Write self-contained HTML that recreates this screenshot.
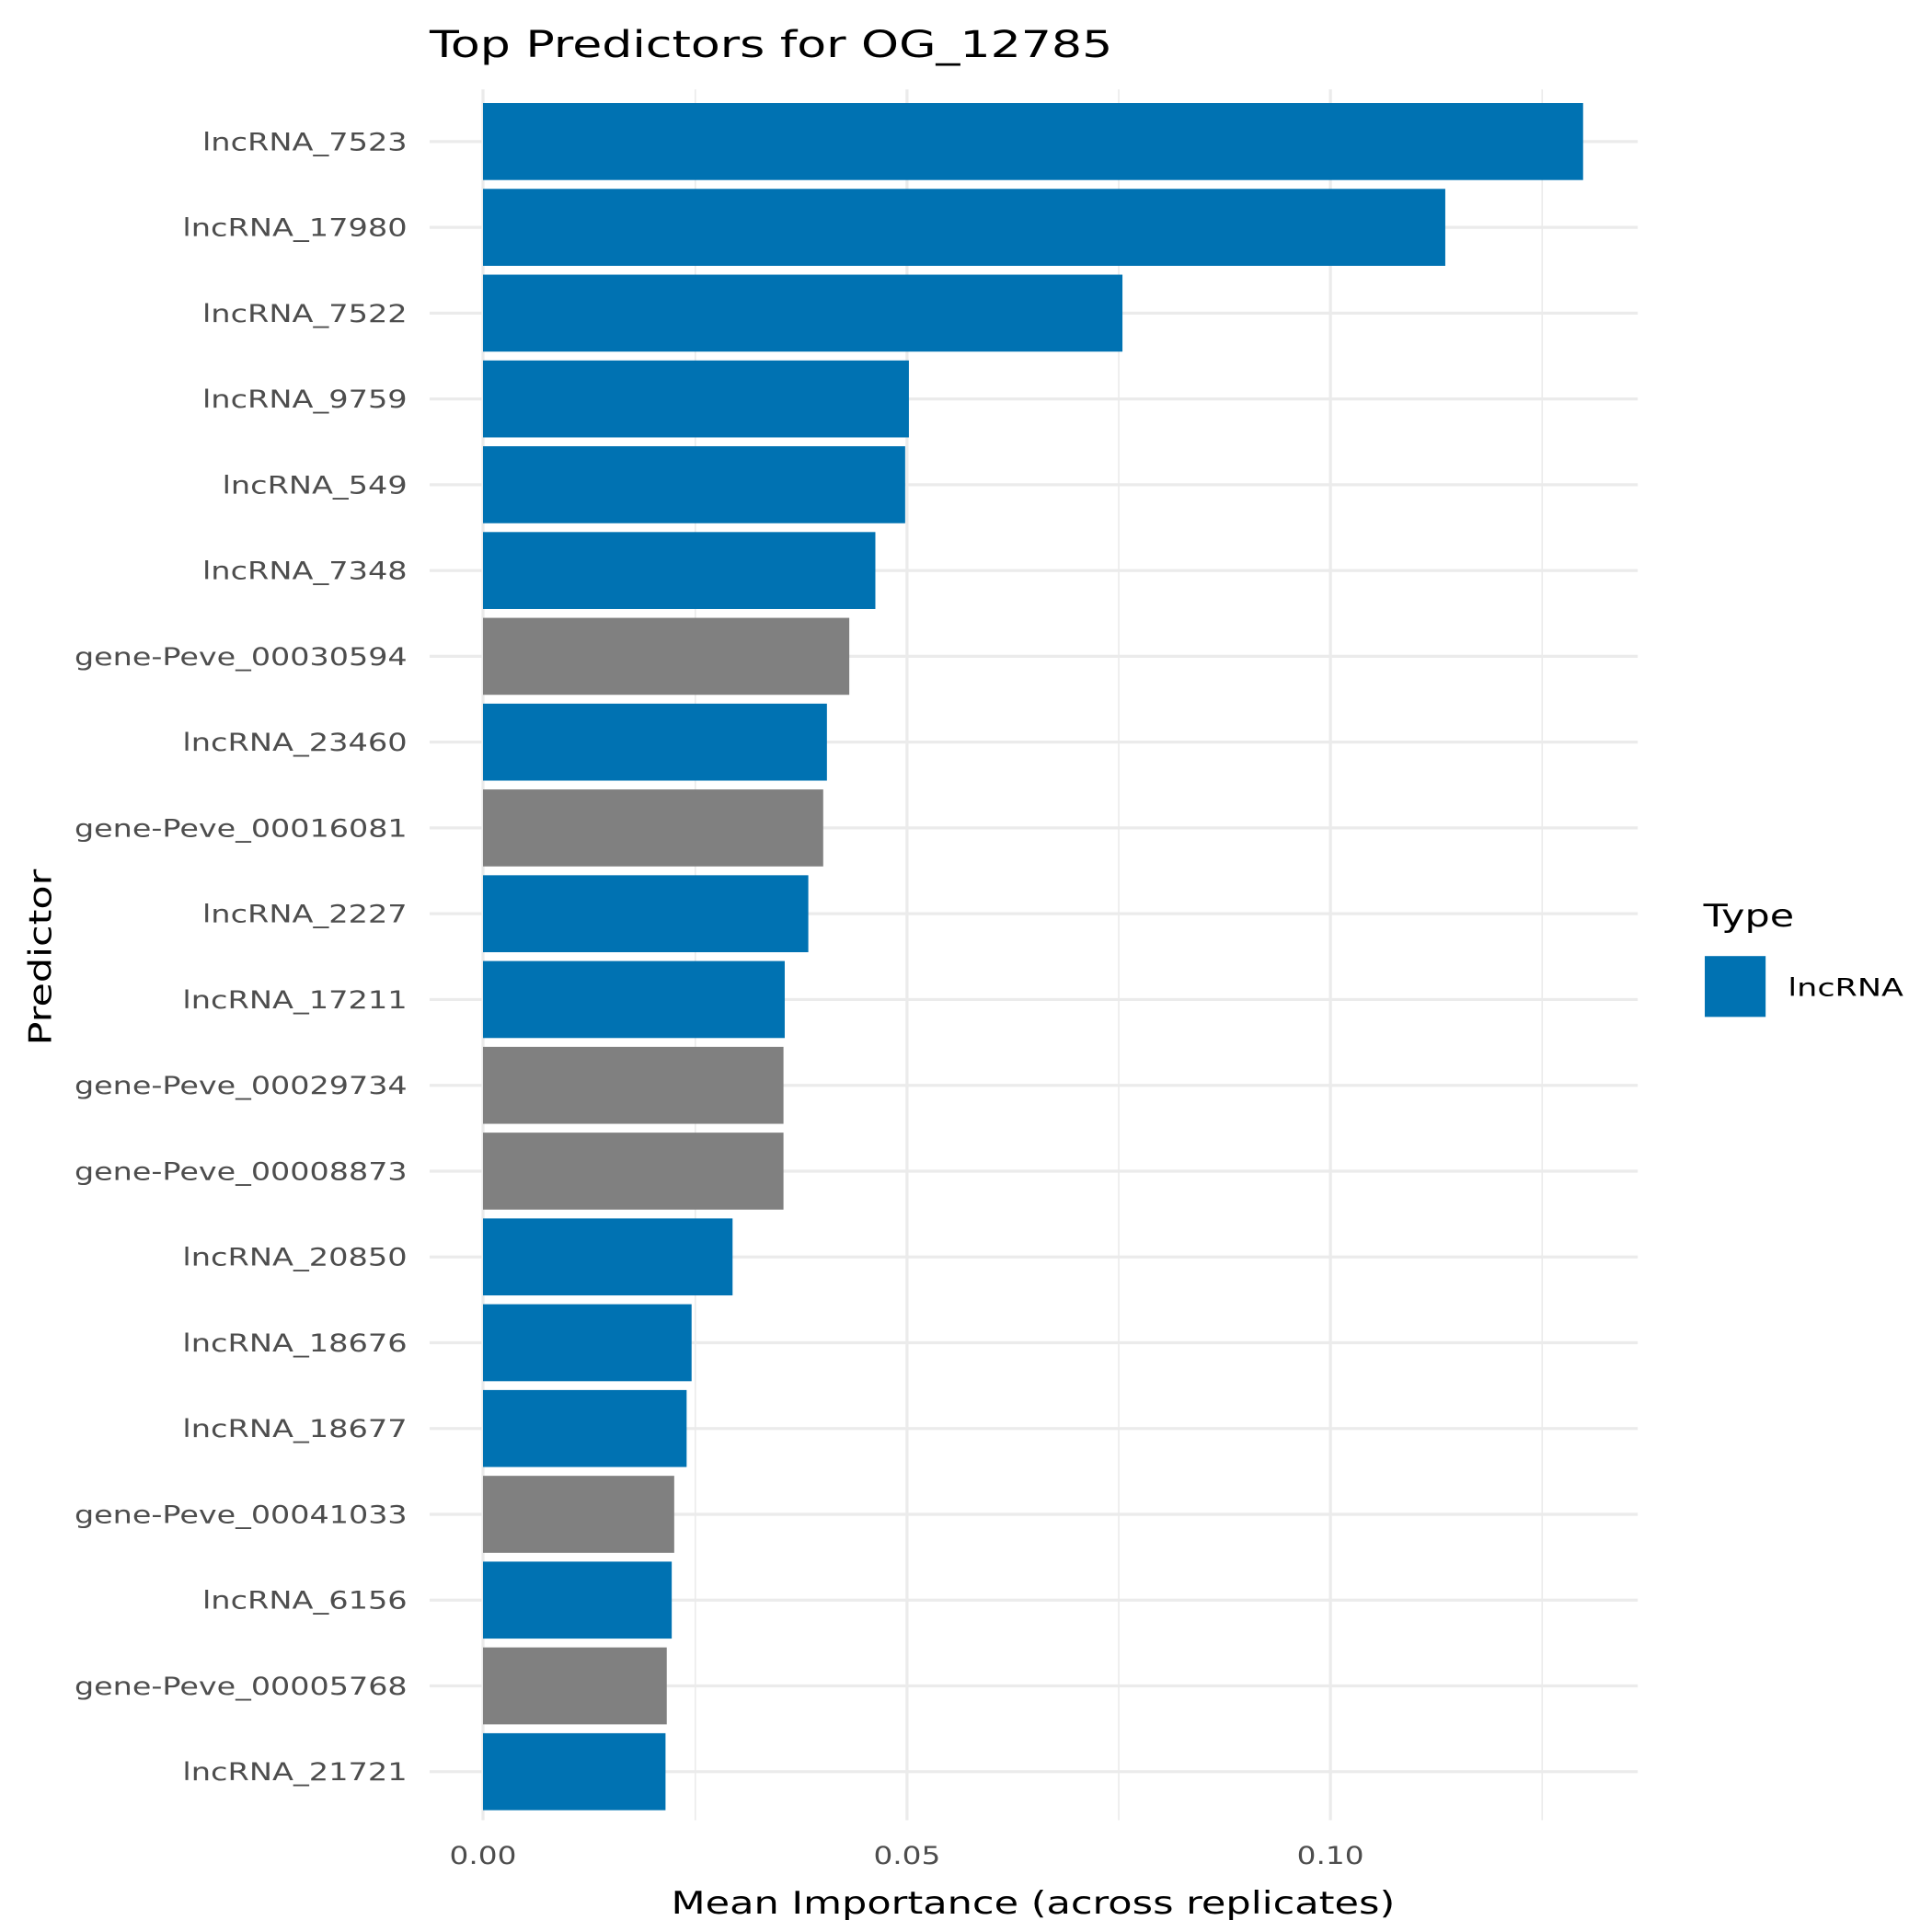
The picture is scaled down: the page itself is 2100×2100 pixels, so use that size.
<!DOCTYPE html>
<html><head><meta charset="utf-8"><style>html,body{margin:0;padding:0;background:#fff}svg{display:block}</style></head>
<body>
<svg width="2100" height="2100" viewBox="0 0 1556 1556" xmlns="http://www.w3.org/2000/svg" font-family="DejaVu Sans, Liberation Sans, sans-serif">
<rect width="1556" height="1556" fill="#fff"/>
<g stroke="#ebebeb">
<line x1="560" y1="72" x2="560" y2="1466" stroke-width="1.2"/>
<line x1="901" y1="72" x2="901" y2="1466" stroke-width="1.2"/>
<line x1="1242" y1="72" x2="1242" y2="1466" stroke-width="1.2"/>
<line x1="389" y1="72" x2="389" y2="1466" stroke-width="2.4"/>
<line x1="730.5" y1="72" x2="730.5" y2="1466" stroke-width="2.4"/>
<line x1="1071.5" y1="72" x2="1071.5" y2="1466" stroke-width="2.4"/>
</g>
<g stroke="#ebebeb" stroke-width="2.4">
<line x1="346" x2="1319" y1="114" y2="114"/>
<line x1="346" x2="1319" y1="183.1" y2="183.1"/>
<line x1="346" x2="1319" y1="252.2" y2="252.2"/>
<line x1="346" x2="1319" y1="321.3" y2="321.3"/>
<line x1="346" x2="1319" y1="390.4" y2="390.4"/>
<line x1="346" x2="1319" y1="459.5" y2="459.5"/>
<line x1="346" x2="1319" y1="528.6" y2="528.6"/>
<line x1="346" x2="1319" y1="597.7" y2="597.7"/>
<line x1="346" x2="1319" y1="666.8" y2="666.8"/>
<line x1="346" x2="1319" y1="735.9" y2="735.9"/>
<line x1="346" x2="1319" y1="805" y2="805"/>
<line x1="346" x2="1319" y1="874.1" y2="874.1"/>
<line x1="346" x2="1319" y1="943.2" y2="943.2"/>
<line x1="346" x2="1319" y1="1012.3" y2="1012.3"/>
<line x1="346" x2="1319" y1="1081.4" y2="1081.4"/>
<line x1="346" x2="1319" y1="1150.5" y2="1150.5"/>
<line x1="346" x2="1319" y1="1219.6" y2="1219.6"/>
<line x1="346" x2="1319" y1="1288.7" y2="1288.7"/>
<line x1="346" x2="1319" y1="1357.8" y2="1357.8"/>
<line x1="346" x2="1319" y1="1426.9" y2="1426.9"/>
</g>
<g>
<rect x="389" y="83" width="886" height="62" fill="#0072B2"/>
<rect x="389" y="152.1" width="775" height="62" fill="#0072B2"/>
<rect x="389" y="221.2" width="515" height="62" fill="#0072B2"/>
<rect x="389" y="290.3" width="343" height="62" fill="#0072B2"/>
<rect x="389" y="359.4" width="340" height="62" fill="#0072B2"/>
<rect x="389" y="428.5" width="316" height="62" fill="#0072B2"/>
<rect x="389" y="497.6" width="295" height="62" fill="#808080"/>
<rect x="389" y="566.7" width="277" height="62" fill="#0072B2"/>
<rect x="389" y="635.8" width="274" height="62" fill="#808080"/>
<rect x="389" y="704.9" width="262" height="62" fill="#0072B2"/>
<rect x="389" y="774" width="243" height="62" fill="#0072B2"/>
<rect x="389" y="843.1" width="242" height="62" fill="#808080"/>
<rect x="389" y="912.2" width="242" height="62" fill="#808080"/>
<rect x="389" y="981.3" width="201" height="62" fill="#0072B2"/>
<rect x="389" y="1050.4" width="168" height="62" fill="#0072B2"/>
<rect x="389" y="1119.5" width="164" height="62" fill="#0072B2"/>
<rect x="389" y="1188.6" width="154" height="62" fill="#808080"/>
<rect x="389" y="1257.7" width="152" height="62" fill="#0072B2"/>
<rect x="389" y="1326.8" width="148" height="62" fill="#808080"/>
<rect x="389" y="1395.9" width="147" height="62" fill="#0072B2"/>
</g>
<g font-size="20" fill="#4d4d4d" text-anchor="end" lengthAdjust="spacingAndGlyphs">
<text x="328" y="121" textLength="165" lengthAdjust="spacingAndGlyphs">lncRNA_7523</text>
<text x="328" y="190.1" textLength="181" lengthAdjust="spacingAndGlyphs">lncRNA_17980</text>
<text x="328" y="259.2" textLength="165" lengthAdjust="spacingAndGlyphs">lncRNA_7522</text>
<text x="328" y="328.3" textLength="165" lengthAdjust="spacingAndGlyphs">lncRNA_9759</text>
<text x="328" y="397.4" textLength="149" lengthAdjust="spacingAndGlyphs">lncRNA_549</text>
<text x="328" y="466.5" textLength="165" lengthAdjust="spacingAndGlyphs">lncRNA_7348</text>
<text x="328" y="535.6" textLength="268" lengthAdjust="spacingAndGlyphs">gene-Peve_00030594</text>
<text x="328" y="604.7" textLength="181" lengthAdjust="spacingAndGlyphs">lncRNA_23460</text>
<text x="328" y="673.8" textLength="268" lengthAdjust="spacingAndGlyphs">gene-Peve_00016081</text>
<text x="328" y="742.9" textLength="165" lengthAdjust="spacingAndGlyphs">lncRNA_2227</text>
<text x="328" y="812" textLength="181" lengthAdjust="spacingAndGlyphs">lncRNA_17211</text>
<text x="328" y="881.1" textLength="268" lengthAdjust="spacingAndGlyphs">gene-Peve_00029734</text>
<text x="328" y="950.2" textLength="268" lengthAdjust="spacingAndGlyphs">gene-Peve_00008873</text>
<text x="328" y="1019.3" textLength="181" lengthAdjust="spacingAndGlyphs">lncRNA_20850</text>
<text x="328" y="1088.4" textLength="181" lengthAdjust="spacingAndGlyphs">lncRNA_18676</text>
<text x="328" y="1157.5" textLength="181" lengthAdjust="spacingAndGlyphs">lncRNA_18677</text>
<text x="328" y="1226.6" textLength="268" lengthAdjust="spacingAndGlyphs">gene-Peve_00041033</text>
<text x="328" y="1295.7" textLength="165" lengthAdjust="spacingAndGlyphs">lncRNA_6156</text>
<text x="328" y="1364.8" textLength="268" lengthAdjust="spacingAndGlyphs">gene-Peve_00005768</text>
<text x="328" y="1433.9" textLength="181" lengthAdjust="spacingAndGlyphs">lncRNA_21721</text>
</g>
<text x="346" y="46" font-size="30" fill="#000" textLength="550" lengthAdjust="spacingAndGlyphs">Top Predictors for OG_12785</text>
<g font-size="20" fill="#4d4d4d" text-anchor="middle">
<text x="389" y="1501" textLength="54" lengthAdjust="spacingAndGlyphs">0.00</text>
<text x="730.5" y="1501" textLength="54" lengthAdjust="spacingAndGlyphs">0.05</text>
<text x="1071.5" y="1501" textLength="54" lengthAdjust="spacingAndGlyphs">0.10</text>
</g>
<text x="832" y="1541" font-size="25" text-anchor="middle" textLength="583" lengthAdjust="spacingAndGlyphs">Mean Importance (across replicates)</text>
<text transform="translate(41,771) rotate(-90)" font-size="25" text-anchor="middle" textLength="142" lengthAdjust="spacingAndGlyphs">Predictor</text>
<text x="1372" y="746" font-size="25" textLength="73" lengthAdjust="spacingAndGlyphs">Type</text>
<rect x="1373" y="770" width="49" height="49" fill="#0072B2"/>
<text x="1440" y="802" font-size="20" textLength="93" lengthAdjust="spacingAndGlyphs">lncRNA</text>
</svg>
</body></html>
